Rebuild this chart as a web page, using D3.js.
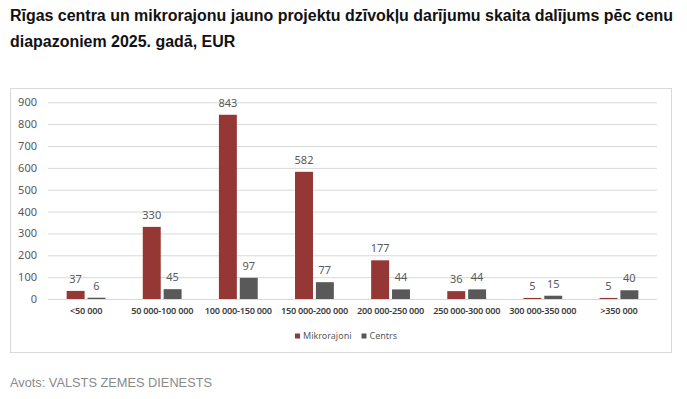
<!DOCTYPE html>
<html>
<head>
<meta charset="utf-8">
<script src="https://cdn.jsdelivr.net/npm/d3@7/dist/d3.min.js"></script>
<style>
  html, body { margin: 0; padding: 0; background: #fff; }
  svg { display: block; }
</style>
</head>
<body>
<svg id="chart" width="687" height="399"></svg>
<script>
const titleLines = [
  "Rīgas centra un mikrorajonu jauno projektu dzīvokļu darījumu skaita dalījums pēc cenu",
  "diapazoniem 2025. gadā, EUR"
];
const sourceText = "Avots: VALSTS ZEMES DIENESTS";
const categories = ["<50 000", "50 000-100 000", "100 000-150 000", "150 000-200 000",
  "200 000-250 000", "250 000-300 000", "300 000-350 000", ">350 000"];
const seriesNames = ["Mikrorajoni", "Centrs"];
const mikrorajoni = [37, 330, 843, 582, 177, 36, 5, 5];
const centrs = [6, 45, 97, 77, 44, 44, 15, 40];
const yTicks = [0, 100, 200, 300, 400, 500, 600, 700, 800, 900];
const colors = ["#953735", "#595959"];

const svg = d3.select("#chart");

// Title
const title = svg.append("g");
const titleNodes = titleLines.map((t, i) => title.append("text")
    .attr("x", 10).attr("y", 21 + i * 26)
    .attr("font-family", "'Liberation Sans', Arial, sans-serif")
    .attr("font-weight", "bold")
    .attr("font-size", 16)
    .attr("fill", "#111")
    .text(t));
{
  const w = titleNodes[0].node().getComputedTextLength();
  const k = 663 / w;
  titleNodes.forEach(n => {
    const wi = n.node().getComputedTextLength();
    n.attr("textLength", (wi * k).toFixed(1)).attr("lengthAdjust", "spacingAndGlyphs");
  });
}

// Box
svg.append("rect")
  .attr("x", 10.5).attr("y", 88.5).attr("width", 661).attr("height", 264)
  .attr("fill", "none").attr("stroke", "#d9d9d9").attr("stroke-width", 1);

const plot = { left: 48, right: 657, top: 102.3, bottom: 299 };
const y = d3.scaleLinear().domain([0, 900]).range([plot.bottom, plot.top]);
const x0 = d3.scaleBand().domain(categories).range([plot.left, plot.right]).paddingInner(0.49).paddingOuter(0.245);
const x1 = d3.scaleBand().domain(seriesNames).range([0, x0.bandwidth()]).paddingInner(0.14);

// Gridlines
const yAxis = d3.axisLeft(y).tickValues(yTicks).tickSize(-(plot.right - plot.left)).tickPadding(11);
const gy = svg.append("g").attr("transform", `translate(${plot.left},0)`).call(yAxis);
gy.select(".domain").remove();
gy.selectAll(".tick line").attr("stroke", "#d9d9d9").attr("stroke-width", 1);
gy.selectAll(".tick text")
  .attr("font-family", "'Noto Sans', 'Open Sans', sans-serif")
  .attr("font-size", 11).attr("fill", "#595959");

// Bars
const data = categories.map((c, i) => ({ cat: c, vals: [
  { s: seriesNames[0], v: mikrorajoni[i], c: colors[0] },
  { s: seriesNames[1], v: centrs[i], c: colors[1] }
]}));

const groups = svg.append("g").selectAll("g").data(data).join("g")
  .attr("transform", d => `translate(${x0(d.cat)},0)`);

groups.selectAll("rect").data(d => d.vals).join("rect")
  .attr("x", d => x1(d.s)).attr("width", x1.bandwidth())
  .attr("y", d => y(d.v)).attr("height", d => y(0) - y(d.v))
  .attr("fill", d => d.c);

groups.selectAll("text").data(d => d.vals).join("text")
  .attr("x", d => x1(d.s) + x1.bandwidth() / 2)
  .attr("y", d => y(d.v) - 8)
  .attr("text-anchor", "middle")
  .attr("font-family", "'Noto Sans', 'Open Sans', sans-serif")
  .attr("font-size", 11).attr("fill", "#595959")
  .text(d => d.v);

// Category axis labels
const xAxis = d3.axisBottom(x0).tickSize(0).tickPadding(8);
const gx = svg.append("g").attr("transform", `translate(0,${plot.bottom})`).call(xAxis);
gx.select(".domain").remove();
gx.selectAll(".tick text")
  .attr("font-family", "'Noto Sans', 'Open Sans', sans-serif")
  .attr("font-size", 9.2).attr("font-weight", 600).attr("fill", "#404040")
  .attr("letter-spacing", "-0.25");

// Legend
const legend = svg.append("g").attr("transform", "translate(295,336)");
let lx = 0;
seriesNames.forEach((s, i) => {
  const g = legend.append("g").attr("transform", `translate(${lx},0)`);
  g.append("rect").attr("x", 0).attr("y", -2.5).attr("width", 5).attr("height", 5).attr("fill", colors[i]);
  const t = g.append("text").attr("x", 8).attr("y", 3.2)
    .attr("font-family", "'Noto Sans', 'Open Sans', sans-serif")
    .attr("font-size", 9).attr("fill", "#595959").text(s);
  lx += 8 + t.node().getComputedTextLength() + 10;
});

// Source
svg.append("text")
  .attr("x", 10).attr("y", 387)
  .attr("font-family", "'Liberation Sans Narrow', 'Arial Narrow', 'Liberation Sans', sans-serif")
  .attr("font-size", 13.5).attr("fill", "#8a8a8a")
  .attr("textLength", 202).attr("lengthAdjust", "spacingAndGlyphs")
  .text(sourceText);
</script>
</body>
</html>
